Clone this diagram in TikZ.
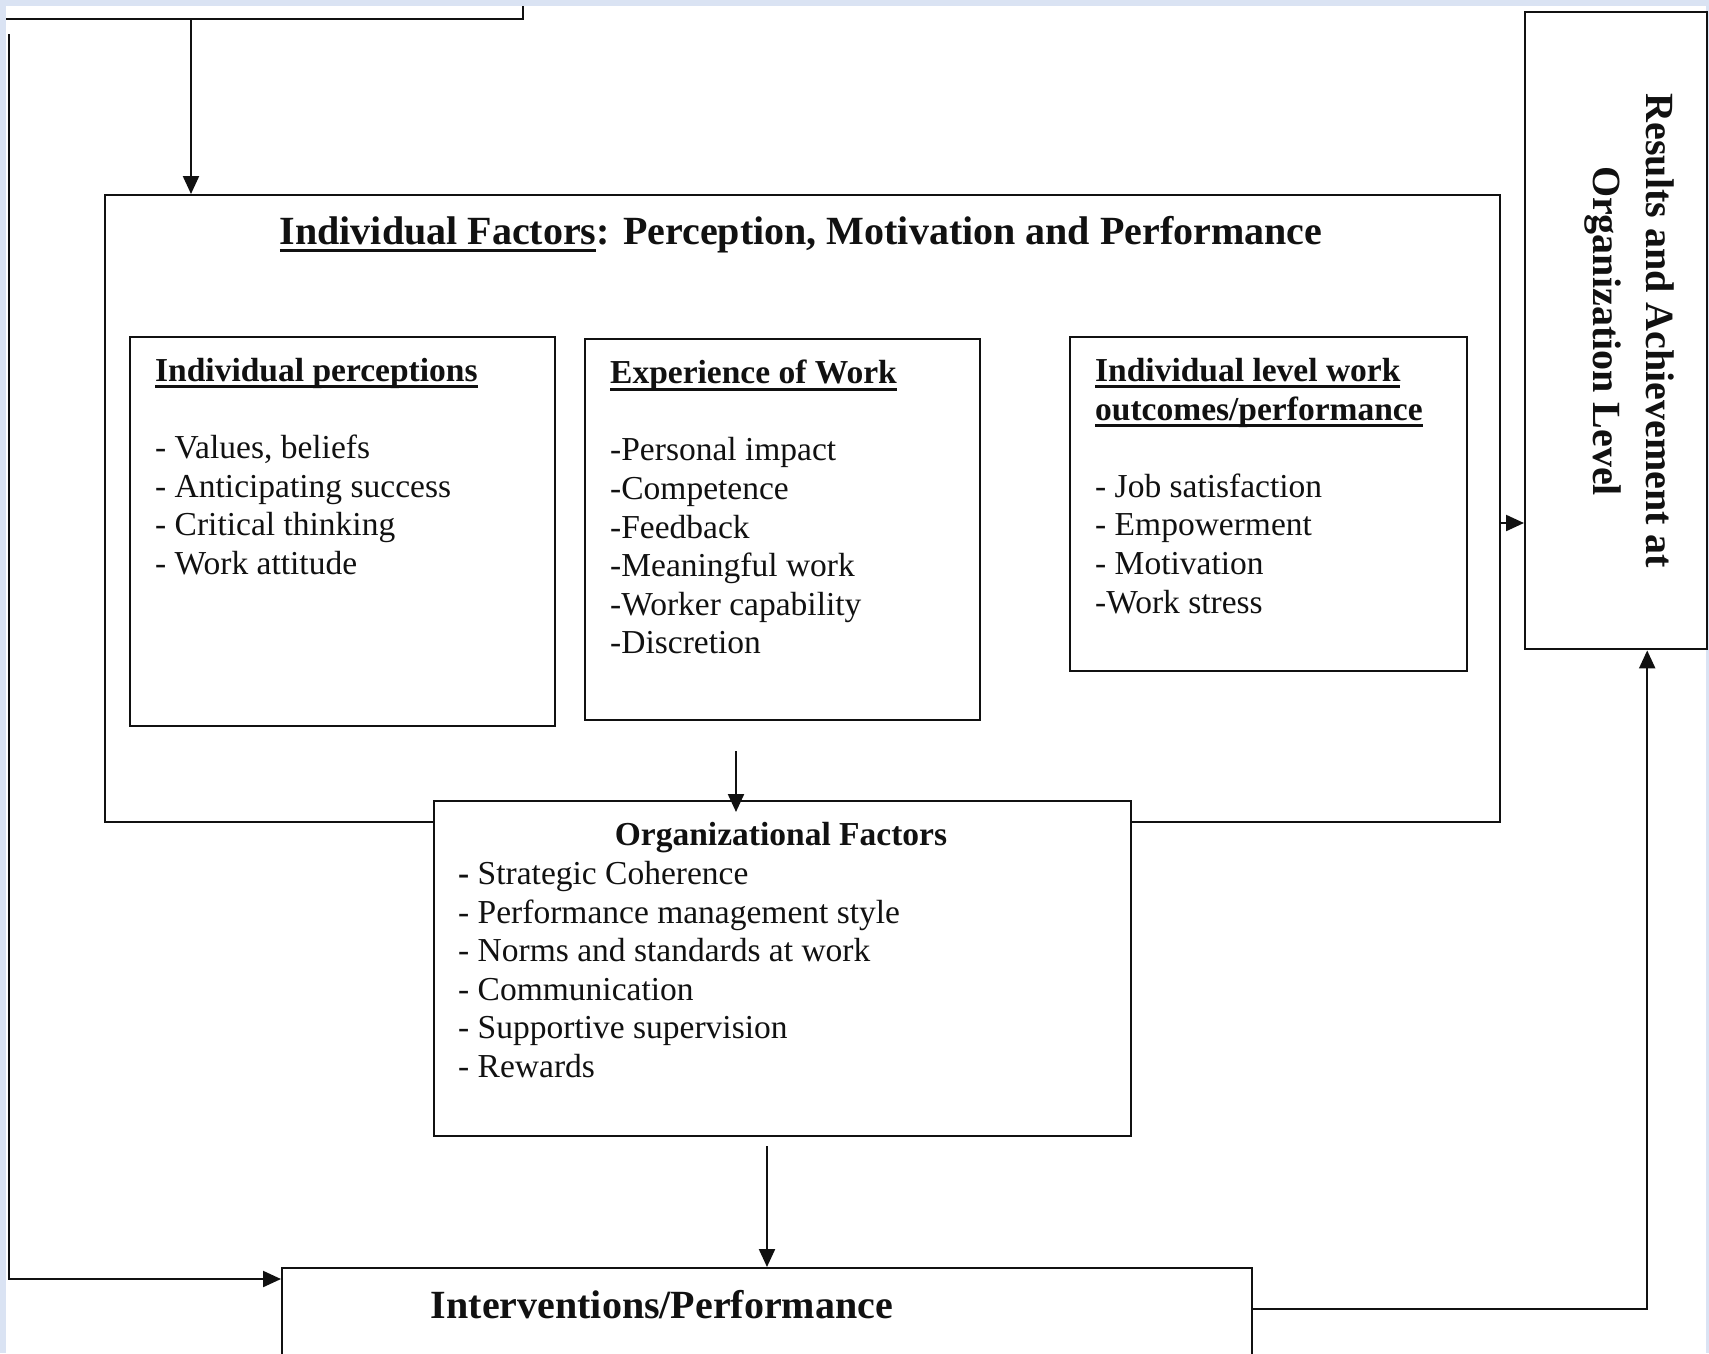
\documentclass[tikz,border=0pt]{standalone}
\usepackage{fontspec}
\setmainfont{Liberation Serif}
\usepackage{xcolor}
\usepackage{tikz}
\usetikzlibrary{arrows.meta, positioning}
\definecolor{ink}{HTML}{111111}
\definecolor{paleblue}{HTML}{DAE3F3}
\newcommand{\ulfix}[1]{\leavevmode\setbox0=\hbox{#1}\rlap{\rule[-0.2em]{\wd0}{0.085em}}\box0}
\tikzstyle{box} = [rectangle, draw=ink, line width=2.4pt, fill=none, inner sep=0pt, anchor=north west]
\tikzstyle{listtext} = [anchor=north west, inner sep=0pt, align=left, text=ink, font=\fontsize{33.5}{38.6}\selectfont]
\tikzstyle{headtext} = [inner sep=0pt, text=ink, font=\fontsize{33.5}{38.6}\selectfont\bfseries]
\tikzstyle{bigtext} = [inner sep=0pt, align=center, text=ink, font=\fontsize{40}{53}\selectfont\bfseries]
\tikzstyle{flow} = [line width=2.2pt, -{Triangle[length=18pt, width=16pt]}, color=ink]

\begin{document}
\begin{tikzpicture}[x=1pt, y=-1pt]
\useasboundingbox (0,0) rectangle (1709,1353);
\fill[paleblue] (0,0) rectangle (1709,1353);
\fill[white] (6,6) rectangle (1706,1353);
\clip (0,0) rectangle (1709,1353);

% boxes
\draw[line width=2.4pt, ink] (6,19) -| (523,6);
\coordinate (topbox) at (191,19);
\node (indiv) [box, minimum width=1395pt, minimum height=627pt] at (104,194) {};
\node (ipbox) [box, minimum width=425pt, minimum height=389pt] at (129,336) {};
\node (ewbox) [box, minimum width=395pt, minimum height=381pt] at (584,338) {};
\node (ilbox) [box, minimum width=397pt, minimum height=334pt] at (1069,336) {};
\node (org) [box, fill=white, minimum width=697pt, minimum height=335pt] at (433,800) {};
\node (interv) [box, minimum width=970pt, minimum height=200pt] at (281,1267) {};
\node (results) [box, minimum width=182pt, minimum height=637pt] at (1524,11) {};

% texts
\node (indivhead) [bigtext, anchor=base] at (801,244) {\ulfix{Individual Factors}: Perception, Motivation and Performance};
\node (iptext) [listtext] at (155,358) {\textbf{\ulfix{Individual perceptions}}\\ \\- Values, beliefs\\- Anticipating success\\- Critical thinking\\- Work attitude};
\node (ewtext) [listtext] at (610,360) {\textbf{\ulfix{Experience of Work}}\\ \\-Personal impact\\-Competence\\-Feedback\\-Meaningful work\\-Worker capability\\-Discretion};
\node (iltext) [listtext] at (1095,358) {\textbf{\ulfix{Individual level work}}\\\textbf{\ulfix{outcomes/performance}}\\ \\- Job satisfaction\\- Empowerment\\- Motivation\\-Work stress};
\node (orghead) [headtext, anchor=base] at (781,845) {Organizational Factors};
\node (orgtext) [listtext] at (458,861) {\textbf{-} Strategic Coherence\\- Performance management style\\- Norms and standards at work\\- Communication\\- Supportive supervision\\- Rewards};
\node (intervhead) [bigtext, anchor=base] at (662,1318) {Interventions/Performance};
\node (restext) [bigtext, rotate=-90] at (1629,331) {Results and Achievement at\\Organization Level};

% connectors
\coordinate (loopstart) at (9,34);
\coordinate (ewout) at (736,751);
\coordinate (orgout) at (767,1146);
\draw[flow] (topbox) -- (topbox |- indiv.north);
\draw[flow] (loopstart) |- ([yshift=-12pt]interv.north west);
\draw[flow] (ewout) -- ([yshift=-12pt]ewout |- org.north);
\draw[flow] (orgout) -- (orgout |- interv.north);
\draw[flow] (indiv.east |- 0,523) -- (results.west |- 0,523);
\draw[flow] ([yshift=-42pt]interv.north east) -| ([xshift=31pt]results.south);
\end{tikzpicture}
\end{document}
